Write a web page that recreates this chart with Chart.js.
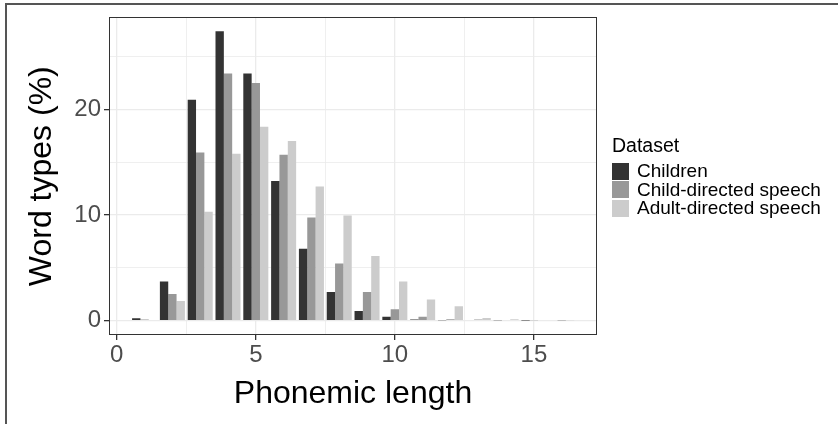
<!DOCTYPE html>
<html>
<head>
<meta charset="utf-8">
<script src="https://cdn.jsdelivr.net/npm/chart.js@4/dist/chart.umd.min.js"></script>
<style>
    body { margin: 0; background: #FFF; font-family: "Liberation Sans", Arial, sans-serif; }
    #wrap { position: relative; width: 838px; height: 424px; overflow: hidden; }
    #frame { position: absolute; left: 5px; top: 3px; right: 0; bottom: 0;
             border-top: 2px solid #555; border-left: 2px solid #555; pointer-events: none; }
    #legend { position: absolute; left: 612px; top: 132px; color: #000; }
    #legend .title { font-size: 19.5px; line-height: 26px; margin-bottom: 4px; }
    #legend .item { display: flex; align-items: center; height: 18.5px; font-size: 19px; }
    #legend .key { width: 17px; height: 17px; margin-right: 8px; }
</style>
</head>
<body>
<div id="wrap">
    <canvas id="chart" width="838" height="424"></canvas>
    <div id="legend"></div>
    <div id="frame"></div>
</div>
<script>
// ---------- 数据 ----------
const lengths = [1, 2, 3, 4, 5, 6, 7, 8, 9, 10, 11, 12, 13, 14, 15, 16];
const children = [0.22, 3.7, 20.9, 27.4, 23.4, 13.2, 6.8, 2.7, 0.9, 0.35, 0.1, 0.03, 0.05, 0.02, 0.01, 0];
const childDirected = [0.1, 2.5, 15.9, 23.4, 22.5, 15.7, 9.75, 5.4, 2.7, 1.07, 0.35, 0.13, 0.1, 0.05, 0.03, 0.01];
const adultDirected = [0.04, 1.85, 10.3, 15.8, 18.35, 17.0, 12.7, 9.95, 6.1, 3.7, 2.0, 1.36, 0.25, 0.12, 0.05, 0.02];
const seriesNames = ['Children', 'Child-directed speech', 'Adult-directed speech'];
const seriesColors = ['#333333', '#989898', '#CCCCCC'];

const FONT = '"Liberation Sans", Arial, sans-serif';

function toPoints(values) {
    return lengths.map((len, i) => ({ x: len, y: values[i] }));
}

// 面板边框
const panelBorder = {
    id: 'panelBorder',
    afterDraw(chart) {
        const { ctx, chartArea: a } = chart;
        ctx.save();
        ctx.strokeStyle = '#333';
        ctx.lineWidth = 1;
        ctx.strokeRect(Math.round(a.left) + 0.5, Math.round(a.top) + 0.5,
            Math.round(a.right - a.left) - 1, Math.round(a.bottom - a.top) - 1);
        ctx.restore();
    }
};

const isMajor = (v, step) => Math.abs(v / step - Math.round(v / step)) < 1e-6;

new Chart(document.getElementById('chart'), {
    type: 'bar',
    data: {
        datasets: [children, childDirected, adultDirected].map((vals, i) => ({
            label: seriesNames[i],
            data: toPoints(vals),
            backgroundColor: seriesColors[i],
            borderWidth: 0,
            categoryPercentage: 0.9,
            barPercentage: 1.0,
        }))
    },
    options: {
        responsive: false,
        animation: false,
        devicePixelRatio: 1,
        layout: { padding: { left: 23, right: 241, top: 17, bottom: 11 } },
        plugins: {
            legend: { display: false },
            tooltip: { enabled: false }
        },
        scales: {
            x: {
                type: 'linear',
                offset: false,
                min: -0.28,
                max: 17.27,
                afterFit: s => { s.height = 78; },
                grid: {
                    offset: false,
                    color: '#EBEBEB',
                    lineWidth: c => isMajor(c.tick.value, 5) ? 1.3 : 0.8,
                    tickColor: c => isMajor(c.tick.value, 5) ? '#333' : 'rgba(0,0,0,0)',
                    tickLength: 5,
                },
                border: { display: false },
                ticks: {
                    stepSize: 2.5,
                    includeBounds: false,
                    autoSkip: false,
                    maxRotation: 0,
                    padding: 1,
                    color: '#4D4D4D',
                    font: { family: FONT, size: 24 },
                    callback: v => isMajor(v, 5) ? String(v) : ''
                },
                title: {
                    display: true,
                    text: 'Phonemic length',
                    color: '#000',
                    padding: 0,
                    font: { family: FONT, size: 32 }
                }
            },
            y: {
                min: -1.37,
                max: 28.7,
                afterFit: s => { s.width = 86; },
                grid: {
                    color: '#EBEBEB',
                    lineWidth: c => isMajor(c.tick.value, 10) ? 1.3 : 0.8,
                    tickColor: c => isMajor(c.tick.value, 10) ? '#333' : 'rgba(0,0,0,0)',
                    tickLength: 5,
                },
                border: { display: false },
                ticks: {
                    stepSize: 5,
                    includeBounds: false,
                    padding: 3,
                    color: '#4D4D4D',
                    font: { family: FONT, size: 24 },
                    callback: v => isMajor(v, 10) ? String(v) : ''
                },
                title: {
                    display: true,
                    text: 'Word types (%)',
                    color: '#000',
                    padding: 0,
                    font: { family: FONT, size: 32 }
                }
            }
        }
    },
    plugins: [panelBorder]
});

// ---------- 图例 ----------
const legend = document.getElementById('legend');
legend.innerHTML = '<div class="title">Dataset</div>' + seriesNames.map((name, i) =>
    `<div class="item"><span class="key" style="background:${seriesColors[i]}"></span>${name}</div>`
).join('');
</script>
</body>
</html>
